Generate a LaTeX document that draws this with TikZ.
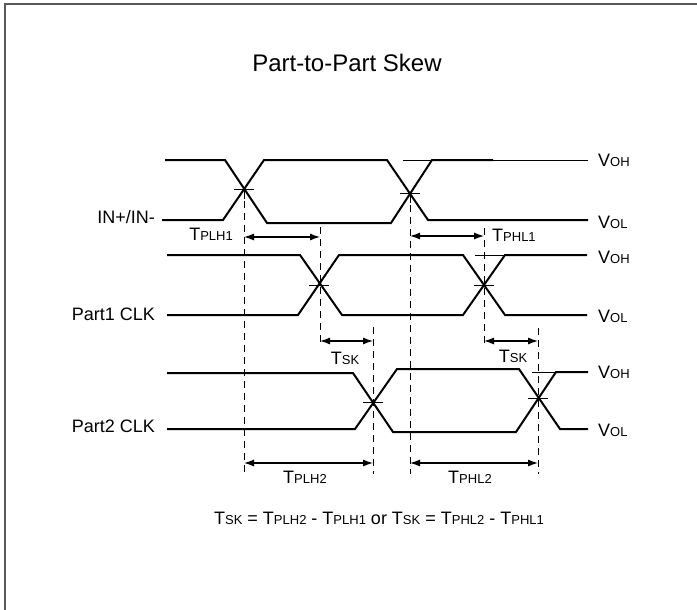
\documentclass[tikz,border=0pt]{standalone}
\usepackage{fontspec}
\setmainfont{Liberation Sans}
\usetikzlibrary{arrows.meta}
\newcommand\bigsub[2]{{\fontsize{18}{20}\selectfont #1}{\fontsize{13}{15}\selectfont #2}}
\tikzset{
  sig/.style={line width=2pt, line join=miter},
  thin/.style={line width=0.9pt},
  guide/.style={line width=0.9pt, dash pattern=on 7pt off 5pt},
  meas/.style={line width=1.2pt, {Latex[length=10pt,width=7pt]}-{Latex[length=10pt,width=7pt]}},
  lbl/.style={inner sep=0pt, font=\fontsize{18}{20}\selectfont},
  frame/.style={line width=1.6pt, draw=black!65}
}
\begin{document}
\begin{tikzpicture}[x=1pt,y=-1pt]
\useasboundingbox (0,0) rectangle (697,610);
% frame
\draw[frame] (5,610) -- (5,4) -- (697,4);
% title
\node[lbl, anchor=base, font=\fontsize{24}{26}\selectfont] (title) at (347,72) {Part-to-Part Skew};

% ---------- IN+/IN- ----------
\draw[sig] (165,160) -- (225,160) -- (267,223) -- (391,223) -- (432,160) -- (493,160);
\draw[sig] (162,220) -- (223,220) -- (264,160) -- (387,160) -- (428,220) -- (588,220);
\draw[thin] (403,160) -- (588,160);
\node[lbl, anchor=base east] (inlbl) at (155,223) {IN+/IN-};
\node[lbl, anchor=base west] (voh1) at (598,167) {\bigsub{V}{OH}};
\node[lbl, anchor=base west] (vol1) at (598,228) {\bigsub{V}{OL}};

% ---------- Part1 CLK ----------
\draw[sig] (167,255) -- (300,255) -- (342,315) -- (463,315) -- (505,255) -- (587,255);
\draw[sig] (167,315) -- (298,315) -- (339,255) -- (463,255) -- (505,315) -- (587,315);
\draw[thin] (475,255) -- (505,255);
\node[lbl, anchor=base east] (p1lbl) at (155,320) {Part1 CLK};
\node[lbl, anchor=base west] (voh2) at (598,263) {\bigsub{V}{OH}};
\node[lbl, anchor=base west] (vol2) at (598,322) {\bigsub{V}{OL}};

% ---------- Part2 CLK ----------
\draw[sig] (167,373) -- (353,373) -- (393,432) -- (516,432) -- (556,372) -- (588,372);
\draw[sig] (167,429) -- (355,429) -- (397,369) -- (519,369) -- (560,429) -- (588,429);
\draw[thin] (532,372) -- (556,372);
\node[lbl, anchor=base east] (p2lbl) at (155,432) {Part2 CLK};
\node[lbl, anchor=base west] (voh3) at (598,378) {\bigsub{V}{OH}};
\node[lbl, anchor=base west] (vol3) at (598,436) {\bigsub{V}{OL}};

% ---------- crossing points ----------
\coordinate (c1) at (244,189);
\coordinate (c2) at (410,193);
\coordinate (c3) at (319,285);
\coordinate (c4) at (484,285);
\coordinate (c5) at (373,402);
\coordinate (c6) at (538,398);
\foreach \c in {c1,c2,c3,c4,c5,c6}{
  \draw[thin] ([xshift=-10pt]\c) -- ([xshift=10pt]\c);
}
\draw[thin] ([yshift=-10pt]c1) -- (c1);
\draw[thin] ([yshift=-10pt]c2) -- (c2);

% ---------- guide lines ----------
\coordinate (g1t) at (244,189); \coordinate (g1b) at (244,474);
\coordinate (g2t) at (320,227); \coordinate (g2b) at (320,346);
\coordinate (g3t) at (410,193); \coordinate (g3b) at (410,474);
\coordinate (g4t) at (484,228); \coordinate (g4b) at (484,346);
\coordinate (g5t) at (373,327); \coordinate (g5b) at (373,474);
\coordinate (g6t) at (538,328); \coordinate (g6b) at (538,474);
\foreach \g in {g1,g2,g3,g4,g5,g6}{
  \draw[guide] (\g t) -- (\g b);
}

% ---------- measurements ----------
\coordinate (a1l) at (244,237); \coordinate (a1r) at (320,237);
\draw[meas] (a1l) -- (a1r);
\node[lbl, anchor=base east] (tplh1) at (233,240) {\bigsub{T}{PLH1}};

\coordinate (a2l) at (410,236); \coordinate (a2r) at (484,236);
\draw[meas] (a2l) -- (a2r);
\node[lbl, anchor=base west] (tphl1) at (492,241) {\bigsub{T}{PHL1}};

\coordinate (a3l) at (320,341); \coordinate (a3r) at (373,341);
\draw[meas] (a3l) -- (a3r);
\node[lbl, anchor=base] (tsk1) at (345,364) {\bigsub{T}{SK}};

\coordinate (a4l) at (484,341); \coordinate (a4r) at (538,341);
\draw[meas] (a4l) -- (a4r);
\node[lbl, anchor=base] (tsk2) at (513,362) {\bigsub{T}{SK}};

\coordinate (a5l) at (244,463); \coordinate (a5r) at (373,463);
\draw[meas] (a5l) -- (a5r);
\node[lbl, anchor=base] (tplh2) at (305,483) {\bigsub{T}{PLH2}};

\coordinate (a6l) at (410,463); \coordinate (a6r) at (538,463);
\draw[meas] (a6l) -- (a6r);
\node[lbl, anchor=base] (tphl2) at (470,483) {\bigsub{T}{PHL2}};

% formula
\node[lbl, anchor=base] (formula) at (379,524)
 {\bigsub{T}{SK} = \bigsub{T}{PLH2} - \bigsub{T}{PLH1} or \bigsub{T}{SK} = \bigsub{T}{PHL2} - \bigsub{T}{PHL1}};
\end{tikzpicture}
\end{document}
